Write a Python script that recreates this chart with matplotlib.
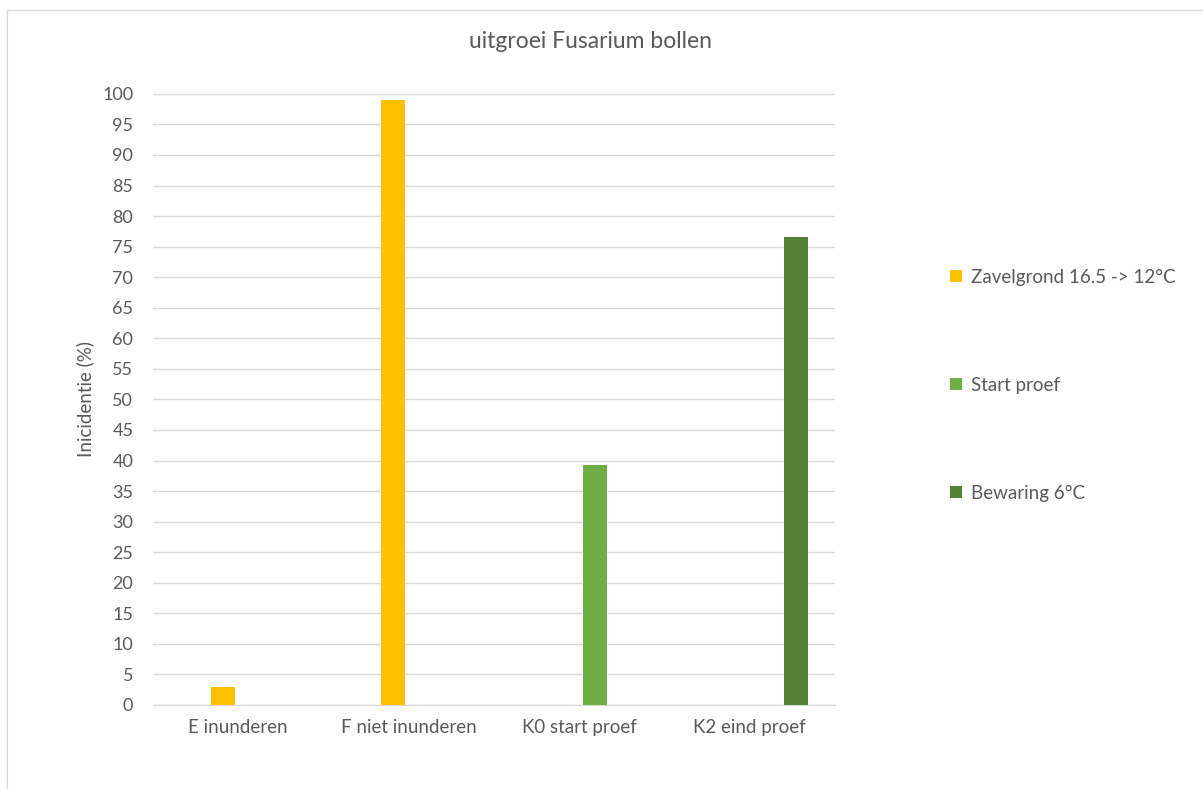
import numpy as np
import matplotlib
matplotlib.use('Agg')
import matplotlib.pyplot as plt
from matplotlib.patches import Rectangle

# ── data ──
categories = ['E inunderen', 'F niet inunderen', 'K0 start proef', 'K2 eind proef']
series_names = ['Zavelgrond 16.5 -> 12°C', 'Start proef', 'Bewaring 6°C']
zavelgrond = [3.0, 99.0, np.nan, np.nan]
start_proef = [np.nan, np.nan, 39.2, np.nan]
bewaring = [np.nan, np.nan, np.nan, 76.5]
y_ticks = list(range(0, 101, 5))

colors = ['#FFC000', '#70AD47', '#548235']
text_col = '#595959'
grid_col = '#D9D9D9'

plt.rcParams['font.family'] = ['Lato', 'DejaVu Sans']

fig = plt.figure(figsize=(12.03, 7.89), dpi=100)
ax = fig.add_axes([0.127, 0.1065, 0.567, 0.7745])

# clustered layout: 4 slots per category, first slot empty
x = np.arange(len(categories))
slot = 0.182
width = 0.141
handles = []
for i, (vals, name, col) in enumerate(zip([zavelgrond, start_proef, bewaring], series_names, colors)):
    offset = (i + 1 - 1.5) * slot
    h = ax.bar(x + offset, vals, width=width, color=col, label=name, zorder=3)
    handles.append(h)

ax.set_xlim(-0.5, len(categories) - 0.5)
ax.set_ylim(0, 100)
ax.set_yticks(y_ticks)
ax.set_xticks(x)
ax.set_xticklabels(categories)
ax.tick_params(axis='both', length=0, colors=text_col, labelsize=13.5)
ax.tick_params(axis='y', labelsize=13, pad=14)
ax.tick_params(axis='x', pad=10)
ax.yaxis.grid(True, color=grid_col, linewidth=1, zorder=0)
for s in ['top', 'right', 'left']:
    ax.spines[s].set_visible(False)
ax.spines['bottom'].set_color(grid_col)
ax.set_ylabel('Inicidentie (%)', color=text_col, fontsize=13.5, labelpad=6)

fig.text(0.4905, 0.948, 'uitgroei Fusarium bollen', ha='center', va='center',
         color=text_col, fontsize=16.5)

leg = fig.legend(handles=handles, labels=series_names, loc='center left',
                 bbox_to_anchor=(0.776, 0.512), frameon=False, fontsize=13.5,
                 handlelength=0.6, handleheight=0.6, handletextpad=0.5,
                 labelspacing=4.85)
for t in leg.get_texts():
    t.set_color(text_col)

# chart area outline
fig.patches.append(Rectangle((7 / 1203, -0.1), 1.2, 1 - 10 / 789 + 0.1,
                             transform=fig.transFigure, fill=False,
                             edgecolor=grid_col, linewidth=1))

fig.savefig('out.png', dpi=100)
